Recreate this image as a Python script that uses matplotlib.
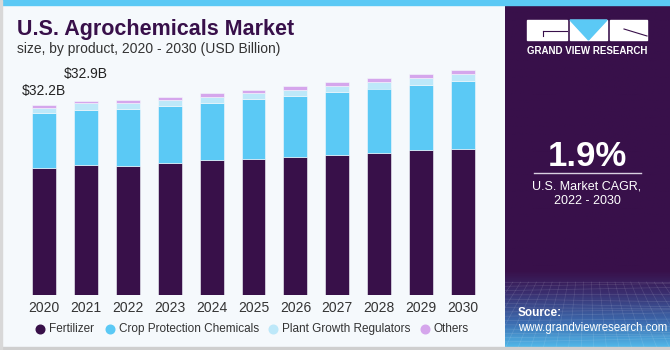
import numpy as np
import matplotlib.pyplot as plt
from matplotlib.patches import Rectangle, Polygon
from matplotlib.lines import Line2D
from matplotlib.colors import LinearSegmentedColormap

plt.rcParams["font.family"] = ["Liberation Sans", "DejaVu Sans"]

# values (USD billion)
years = ["2020", "2021", "2022", "2023", "2024", "2025", "2026", "2027", "2028", "2029", "2030"]
fertilizer = [21.6, 22.0, 21.9, 22.4, 22.8, 23.05, 23.4, 23.7, 24.1, 24.6, 24.8]
crop_protection = [9.2, 9.4, 9.6, 9.6, 9.8, 10.15, 10.4, 10.7, 10.9, 11.0, 11.4]
growth_regulators = [0.85, 1.1, 1.0, 1.05, 0.96, 1.0, 1.0, 1.0, 1.1, 1.2, 1.3]
others = [0.55, 0.4, 0.55, 0.5, 0.64, 0.6, 0.6, 0.65, 0.6, 0.7, 0.7]
series_names = ["Fertilizer", "Crop Protection Chemicals", "Plant Growth Regulators", "Others"]
label_values = {0: "$32.2B", 1: "$32.9B"}

colors = ["#381049", "#5BC9F5", "#BDE8F9", "#D5A6EC"]
bg = "#F5F9FC"
dark = "#38104A"

W, H = 670, 350
fig = plt.figure(figsize=(W / 100, H / 100), dpi=100)
fig.patch.set_facecolor(bg)


def fx(x):
    return x / W


def fy(y):
    return 1 - y / H


# bar chart
ax = fig.add_axes([fx(23), fy(295), fx(484) - fx(23), fy(60) - fy(295)])
ax.set_facecolor(bg)
x = np.arange(len(years))
bottom = np.zeros(len(years))
for vals, c in zip([fertilizer, crop_protection, growth_regulators, others], colors):
    ax.bar(x, vals, width=0.57, bottom=bottom, color=c, edgecolor=bg, linewidth=0.4)
    bottom += np.array(vals)
for i, txt in label_values.items():
    ax.text(x[i], bottom[i] + 1.2 + 2.1 * i, txt, ha="center", va="bottom",
            fontsize=10, color="#222222")
ax.set_xlim(-0.5, len(years) - 0.5)
ax.set_ylim(0, 235 / 5.9)
ax.set_xticks(x)
ax.set_xticklabels(years, fontsize=10, color="#333333")
ax.tick_params(axis="x", length=0, pad=4)
ax.set_yticks([])
for s in ax.spines.values():
    s.set_visible(False)

# legend, laid out by hand to match the reference spacing
leg_x = [40, 110, 273, 425]
for px, name, c in zip(leg_x, series_names, colors):
    fig.add_artist(Line2D([fx(px)], [fy(329)], marker="o", markersize=6.2, color=c,
                          linestyle="", transform=fig.transFigure))
    fig.text(fx(px + 9), fy(329), name, fontsize=8.5, color="#333333",
             ha="left", va="center")

# titles
fig.text(fx(17), fy(29), "U.S. Agrochemicals Market", fontsize=15.5, fontweight="bold",
         color=dark, va="center", ha="left")
fig.text(fx(17), fy(49), "size, by product, 2020 - 2030 (USD Billion)", fontsize=10,
         color="#333333", va="center", ha="left")

# right panel with gradient bottom
pax = fig.add_axes([fx(505), fy(347), fx(670) - fx(505), fy(5) - fy(347)])
pax.set_axis_off()
grad = LinearSegmentedColormap.from_list(
    "g", [(0, dark), (0.78, dark), (0.84, "#3A2C6C"), (0.93, "#3C6AAE"), (1, "#50B4E6")])
pax.imshow(np.linspace(0, 1, 300).reshape(-1, 1), aspect="auto", cmap=grad,
           extent=[0, 1, 0, 1], origin="upper")
# faint mesh
for k in range(15):
    yy = 0.19 - k * 0.0125
    pax.plot([0, 1], [yy, yy + 0.01 * np.sin(k)], color="white", alpha=0.12, lw=0.5)
for k in range(22):
    xx = k / 21
    pax.plot([xx, 0.5 + (xx - 0.5) * 1.6], [0.19, 0.0], color="white", alpha=0.12, lw=0.5)
pax.set_xlim(0, 1)
pax.set_ylim(0, 1)

# logo
fig.add_artist(Rectangle((fx(527), fy(40)), fx(567) - fx(527), fy(20) - fy(40),
                         transform=fig.transFigure, color="white"))
fig.add_artist(Line2D([fx(543), fx(567)], [fy(31), fy(31)], transform=fig.transFigure,
                      color=dark, lw=0.8))
fig.add_artist(Line2D([fx(543), fx(543)], [fy(31), fy(36)], transform=fig.transFigure,
                      color=dark, lw=0.8))
fig.add_artist(Rectangle((fx(570), fy(40)), fx(607) - fx(570), fy(20) - fy(40),
                         transform=fig.transFigure, color="white"))
fig.add_artist(Polygon([(fx(570), fy(20)), (fx(607), fy(20)), (fx(588.5), fy(40))],
                       transform=fig.transFigure, color="#5BC9F5"))
fig.add_artist(Rectangle((fx(610), fy(40)), fx(647) - fx(610), fy(20) - fy(40),
                         transform=fig.transFigure, color="white"))
fig.add_artist(Line2D([fx(624), fx(647)], [fy(29), fy(36)], transform=fig.transFigure,
                      color=dark, lw=0.8))
fig.text(fx(587), fy(51), "GRAND VIEW RESEARCH", fontsize=7, fontweight="bold",
         color="white", ha="center", va="center")

# CAGR
fig.text(fx(587), fy(156), "1.9%", fontsize=25, fontweight="bold", color="white",
         ha="center", va="center")
fig.add_artist(Line2D([fx(534), fx(641)], [fy(173), fy(173)], transform=fig.transFigure,
                      color="#D8D0E0", lw=1))
fig.text(fx(587), fy(186), "U.S. Market CAGR,", fontsize=9, color="white",
         ha="center", va="center")
fig.text(fx(587), fy(201), "2022 - 2030", fontsize=9, color="white",
         ha="center", va="center")

# source
fig.text(fx(518), fy(313), "Source:", fontsize=8.5, fontweight="bold", color="white",
         ha="left", va="center")
fig.text(fx(518), fy(328), "www.grandviewresearch.com", fontsize=8.3, color="white",
         ha="left", va="center")

# frame: top stripe, bottom and left border
fig.add_artist(Rectangle((0, fy(5)), 1, fy(0) - fy(5), transform=fig.transFigure,
                         color="#5BC9F5"))
fig.add_artist(Rectangle((0, 0), 1, fy(347), transform=fig.transFigure, color="#CFCFCF"))
fig.add_artist(Rectangle((0, 0), fx(1.5), 1, transform=fig.transFigure, color="#D8D8D8"))

fig.savefig("out.png", dpi=100, facecolor=fig.get_facecolor())
